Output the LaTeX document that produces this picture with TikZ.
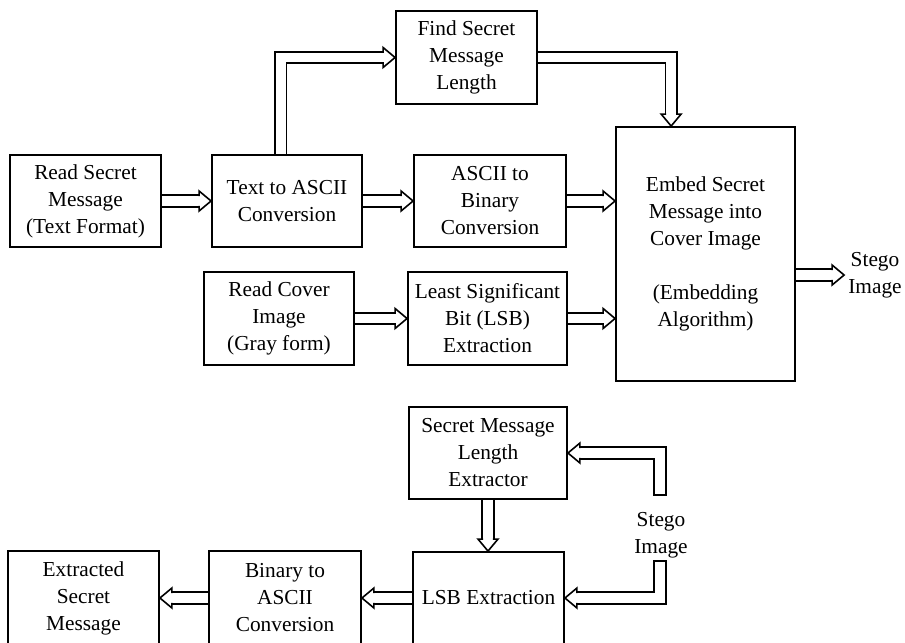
\documentclass[tikz,border=0pt]{standalone}
\usepackage{fontspec}
\setmainfont{Liberation Serif}
\usetikzlibrary{arrows.meta,calc}

\pgfdeclarelayer{bg}
\pgfsetlayers{bg,main}

% one drawing unit
\newdimen\pxu \pxu=0.75pt

% open head for the hollow (double-line) connectors
\pgfdeclarearrow{
  name = HollowHead,
  setup code = {
    \pgfarrowssettipend{0pt}
    \pgfarrowssetlineend{-8.4pt}
    \pgfarrowssetbackend{-9.6pt}
    \pgfarrowshullpoint{0pt}{0pt}
    \pgfarrowsupperhullpoint{-9.6pt}{7.5pt}
  },
  drawing code = {
    \pgfsetlinewidth{1.2pt}
    \pgfsetdash{}{0pt}
    \pgfsetmiterjoin
    \pgfsetbuttcap
    \pgfpathmoveto{\pgfqpoint{-9pt}{3.7pt}}
    \pgfpathlineto{\pgfqpoint{-9pt}{7.5pt}}
    \pgfpathlineto{\pgfqpoint{0pt}{0pt}}
    \pgfpathlineto{\pgfqpoint{-9pt}{-7.5pt}}
    \pgfpathlineto{\pgfqpoint{-9pt}{-3.7pt}}
    \pgfusepathqstroke
  }
}

% closing bar for a free connector end
\pgfdeclarearrow{
  name = ShaftCap,
  setup code = {
    \pgfarrowssettipend{0pt}
    \pgfarrowssetlineend{-1.2pt}
    \pgfarrowssetbackend{-1.2pt}
    \pgfarrowshullpoint{0pt}{4.9pt}
    \pgfarrowshullpoint{0pt}{-4.9pt}
  },
  drawing code = {
    \pgfsetlinewidth{1.2pt}
    \pgfsetdash{}{0pt}
    \pgfsetbuttcap
    \pgfpathmoveto{\pgfqpoint{-0.6pt}{-4.9pt}}
    \pgfpathlineto{\pgfqpoint{-0.6pt}{4.9pt}}
    \pgfusepathqstroke
  }
}

\tikzset{
  txt/.style={font=\fontsize{16}{20.25}\selectfont},
  box/.style={txt, draw, line width=1.4pt, fill=white, align=center, inner sep=0pt},
  lab/.style={txt, align=center, inner sep=3pt},
  fat/.style={draw, double, double distance=7.4pt, line width=1.2pt, line join=miter, -{HollowHead}},
  capped/.style={{ShaftCap}-{HollowHead}}
}

\begin{document}
\begin{tikzpicture}[x=0.75pt, y=-0.75pt]
\useasboundingbox (0,0) rectangle (905,642);
\clip (0,0) rectangle (905,642);

% ---- embedding ----
\node[box, minimum width=151\pxu, minimum height=92\pxu] (rsm) at (85.5,201)
  {Read Secret\\Message\\(Text Format)};
\node[box, minimum width=150\pxu, minimum height=92\pxu] (t2a) at (287,201)
  {Text to ASCII\\Conversion};
\node[box, minimum width=141\pxu, minimum height=93\pxu] (fsml) at (466.5,57.5)
  {Find Secret\\Message\\Length};
\node[box, minimum width=152\pxu, minimum height=92\pxu] (a2b) at (490,201)
  {ASCII to\\Binary\\Conversion};
\node[box, minimum width=179\pxu, minimum height=254\pxu] (emb) at (705.5,254)
  {Embed Secret\\Message into\\Cover Image\\[20.25pt](Embedding\\Algorithm)};
\node[box, minimum width=150\pxu, minimum height=93\pxu] (rci) at (279,318.5)
  {Read Cover\\Image\\(Gray form)};
\node[box, minimum width=159\pxu, minimum height=93\pxu] (lsb) at (487.5,318.5)
  {Least Significant\\Bit (LSB)\\Extraction};
\node[lab] (stego1) at (875,275) {Stego\\Image};

% ---- extraction ----
\node[box, minimum width=158\pxu, minimum height=92\pxu] (smle) at (488,453)
  {Secret Message\\Length\\Extractor};
\node[box, minimum width=151\pxu, minimum height=92\pxu] (lsbx) at (488.5,598)
  {LSB Extraction};
\node[box, minimum width=152\pxu, minimum height=94\pxu] (b2a) at (285,598)
  {Binary to\\ASCII\\Conversion};
\node[box, minimum width=151\pxu, minimum height=94\pxu] (esm) at (83.5,598)
  {Extracted\\Secret\\Message};
\node[lab] (stego2) at (661,535) {Stego\\Image};
\coordinate (s2top) at (660,496);
\coordinate (s2bot) at (660,560);

\begin{pgfonlayer}{bg}
  \path[fat] (rsm) -- (t2a);
  \path[fat] (t2a) -- (a2b);
  \path[fat] ($(t2a.north west)!0.46!(t2a.north east)$) |- (fsml.west);
  \path[fat] (fsml.east) -| ($(emb.north west)!0.31!(emb.north east)$);
  \path[fat] (a2b.east) -- (a2b.east -| emb.west);
  \path[fat] (rci) -- (lsb);
  \path[fat] (lsb.east) -- (lsb.east -| emb.west);
  \path[fat] (stego1.west -| emb.east) -- (stego1.west);

  \path[fat] (smle.south) -- (smle.south |- lsbx.north);
  \path[fat, capped] (s2top) |- (smle.east);
  \path[fat, capped] (s2bot) |- (lsbx.east);
  \path[fat] (lsbx) -- (b2a);
  \path[fat] (b2a) -- (esm);
\end{pgfonlayer}
\end{tikzpicture}
\end{document}
